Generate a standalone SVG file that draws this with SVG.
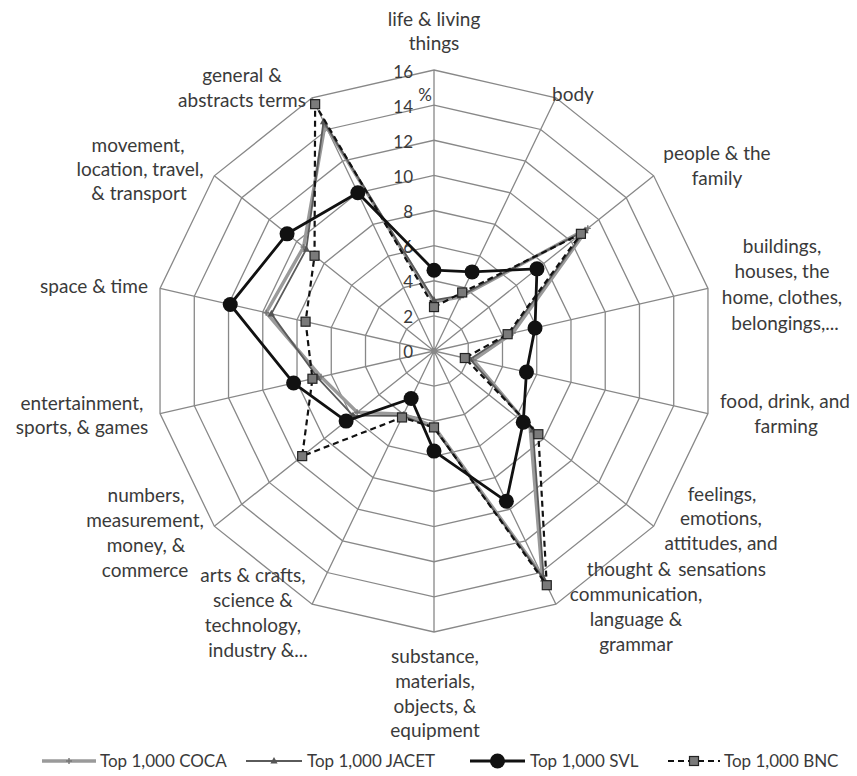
<svg xmlns="http://www.w3.org/2000/svg" xmlns:xlink="http://www.w3.org/1999/xlink" width="857" height="776" viewBox="0 0 857 776">
<style>
.grid{fill:none;stroke:#888;stroke-width:1.3;vector-effect:non-scaling-stroke}
.spoke{stroke:#888;stroke-width:1.3;fill:none}
.lbl{font-family:Lato,"Liberation Sans",sans-serif;font-size:19px;fill:#3a3a3a;text-anchor:middle}
.tick{font-family:Lato,"Liberation Sans",sans-serif;font-size:17px;fill:#3a3a3a;text-anchor:end}
.leg{font-family:Lato,"Liberation Sans",sans-serif;font-size:17px;fill:#3a3a3a}
.coca{fill:none;stroke:#9a9a9a;stroke-width:3.4;stroke-linejoin:round}
.jacet{fill:none;stroke:#5a5a5a;stroke-width:1.8;stroke-linejoin:round}
.svl{fill:none;stroke:#111;stroke-width:2.8;stroke-linejoin:round}
.bnc{fill:none;stroke:#111;stroke-width:2.2;stroke-dasharray:6 4}
</style>
<defs>
<polygon id="ring" class="grid" points="0,-281 121.92,-253.17 219.69,-175.2 273.96,-62.53 273.96,62.53 219.69,175.2 121.92,253.17 0,281 -121.92,253.17 -219.69,175.2 -273.96,62.53 -273.96,-62.53 -219.69,-175.2 -121.92,-253.17"/>
<marker id="mCOCA" markerUnits="userSpaceOnUse" viewBox="-5 -5 10 10" refX="0" refY="0" markerWidth="10" markerHeight="10"><path d="M-3,0H3M0,-3V3" stroke="#777" stroke-width="1.4"/></marker>
<marker id="mJACET" markerUnits="userSpaceOnUse" viewBox="-5 -5 10 10" refX="0" refY="0" markerWidth="10" markerHeight="10"><polygon points="0,-4 3.6,2.6 -3.6,2.6" fill="#555"/></marker>
<marker id="mSVL" markerUnits="userSpaceOnUse" viewBox="-9 -9 18 18" refX="0" refY="0" markerWidth="18" markerHeight="18"><circle r="7.5" fill="#111"/></marker>
<marker id="mBNC" markerUnits="userSpaceOnUse" viewBox="-7 -7 14 14" refX="0" refY="0" markerWidth="14" markerHeight="14"><rect x="-4.5" y="-4.5" width="9" height="9" fill="#7a7a7a" stroke="#222" stroke-width="1.2"/></marker>
</defs>
<rect width="857" height="776" fill="#fff"/>
<g id="grid">
<use xlink:href="#ring" transform="translate(434,351) scale(0.125)"/>
<use xlink:href="#ring" transform="translate(434,351) scale(0.25)"/>
<use xlink:href="#ring" transform="translate(434,351) scale(0.375)"/>
<use xlink:href="#ring" transform="translate(434,351) scale(0.5)"/>
<use xlink:href="#ring" transform="translate(434,351) scale(0.625)"/>
<use xlink:href="#ring" transform="translate(434,351) scale(0.75)"/>
<use xlink:href="#ring" transform="translate(434,351) scale(0.875)"/>
<use xlink:href="#ring" transform="translate(434,351)"/>
<path class="spoke" d="M434,351V70M434,351L555.92,97.83M434,351L653.69,175.8M434,351L707.96,288.47M434,351L707.96,413.53M434,351L653.69,526.2M434,351L555.92,604.17M434,351V632M434,351L312.08,604.17M434,351L214.31,526.2M434,351L160.04,413.53M434,351L160.04,288.47M434,351L214.31,175.8M434,351L312.08,97.83"/>
</g>
<g id="ticks">
<text class="tick" x="413" y="78">16</text>
<text class="tick" x="413" y="113">14</text>
<text class="tick" x="413" y="148">12</text>
<text class="tick" x="413" y="183">10</text>
<text class="tick" x="413" y="218">8</text>
<text class="tick" x="413" y="253">6</text>
<text class="tick" x="413" y="288">4</text>
<text class="tick" x="413" y="323">2</text>
<text class="tick" x="413" y="358">0</text>
<text class="tick" x="432" y="101">%</text>
</g>
<g id="series">
<polygon id="s-coca" class="coca" marker-start="url(#mCOCA)" marker-mid="url(#mCOCA)" points="434,301.82 459.91,297.2 587.79,228.36 512.76,333.02 473.38,359.99 530.12,427.65 542.21,575.69 434,426.52 403.52,414.29 357.11,412.32 321,376.79 266.2,312.7 303.56,246.98 325.03,124.73"/>
<polygon id="s-jacet" class="jacet" marker-start="url(#mJACET)" marker-mid="url(#mJACET)" points="434,300.07 460.67,295.62 585.04,230.55 509.34,333.8 469.96,359.21 532.86,429.84 543.73,578.86 434,428.28 402.76,415.88 352.99,415.61 317.57,377.58 271.34,313.87 306.3,249.17 323.51,121.56"/>
<polygon id="s-svl" class="svl" marker-start="url(#mSVL)" marker-mid="url(#mSVL)" points="434,270.21 472.1,271.89 536.98,268.87 535.02,327.94 526.46,372.1 523.25,422.18 506.39,501.32 434,451.11 411.14,398.47 346.12,421.08 293.6,383.05 230.25,304.5 287.08,233.83 357.8,192.76"/>
<polygon id="s-bnc" class="bnc" marker-start="url(#mBNC)" marker-mid="url(#mBNC)" points="434,307.09 462.19,292.45 580.92,233.83 507.63,334.2 464.82,358.03 538.36,434.22 546.78,585.19 434,427.4 402,417.46 302.18,456.12 312.44,378.75 305.58,321.69 314.54,255.74 315.13,104.15"/>
</g>
<g id="n-life"><text class="lbl" x="434" y="26">life &amp; living</text><text class="lbl" x="434" y="50">things</text></g>
<g id="n-body"><text class="lbl" x="573" y="101">body</text></g>
<g id="n-people"><text class="lbl" x="717" y="160">people &amp; the</text><text class="lbl" x="717" y="185">family</text></g>
<g id="n-buildings"><text class="lbl" x="782" y="253">buildings,</text><text class="lbl" x="782" y="278">houses, the</text><text class="lbl" x="782" y="304">home, clothes,</text><text class="lbl" x="785" y="330">belongings,...</text></g>
<g id="n-food"><text class="lbl" x="785" y="408">food, drink, and</text><text class="lbl" x="786" y="433">farming</text></g>
<g id="n-feelings"><text class="lbl" x="722" y="501">feelings,</text><text class="lbl" x="721" y="525">emotions,</text><text class="lbl" x="721" y="550">attitudes, and</text><text class="lbl" x="722" y="576">sensations</text></g>
<g id="n-thought"><text class="lbl" x="629" y="576">thought &amp;</text><text class="lbl" x="636" y="601">communication,</text><text class="lbl" x="636" y="626">language &amp;</text><text class="lbl" x="636" y="651">grammar</text></g>
<g id="n-substance"><text class="lbl" x="435" y="663">substance,</text><text class="lbl" x="435" y="688">materials,</text><text class="lbl" x="435" y="713">objects, &amp;</text><text class="lbl" x="435" y="737">equipment</text></g>
<g id="n-arts"><text class="lbl" x="253" y="582">arts &amp; crafts,</text><text class="lbl" x="253" y="607">science &amp;</text><text class="lbl" x="253" y="632">technology,</text><text class="lbl" x="258" y="657">industry &amp;...</text></g>
<g id="n-numbers"><text class="lbl" x="146" y="502">numbers,</text><text class="lbl" x="145" y="527">measurement,</text><text class="lbl" x="146" y="552">money, &amp;</text><text class="lbl" x="145" y="577">commerce</text></g>
<g id="n-entertainment"><text class="lbl" x="82" y="410">entertainment,</text><text class="lbl" x="82" y="434">sports, &amp; games</text></g>
<g id="n-space"><text class="lbl" x="94" y="293">space &amp; time</text></g>
<g id="n-movement"><text class="lbl" x="138" y="152">movement,</text><text class="lbl" x="140" y="176">location, travel,</text><text class="lbl" x="139" y="200">&amp; transport</text></g>
<g id="n-general"><text class="lbl" x="242" y="82">general &amp;</text><text class="lbl" x="242" y="107">abstracts terms</text></g>
<g id="legend">
<path d="M42,761H69H96" class="coca" marker-mid="url(#mCOCA)"/>
<text class="leg" x="100" y="767">Top 1,000 COCA</text>
<path d="M246,761H274H302" class="jacet" marker-mid="url(#mJACET)"/>
<text class="leg" x="307" y="767">Top 1,000 JACET</text>
<path d="M470,761H497.5H525" class="svl" marker-mid="url(#mSVL)"/>
<text class="leg" x="530" y="767">Top 1,000 SVL</text>
<path d="M668,761H694H720" class="bnc" marker-mid="url(#mBNC)"/>
<text class="leg" x="724" y="767">Top 1,000 BNC</text>
</g>
</svg>
